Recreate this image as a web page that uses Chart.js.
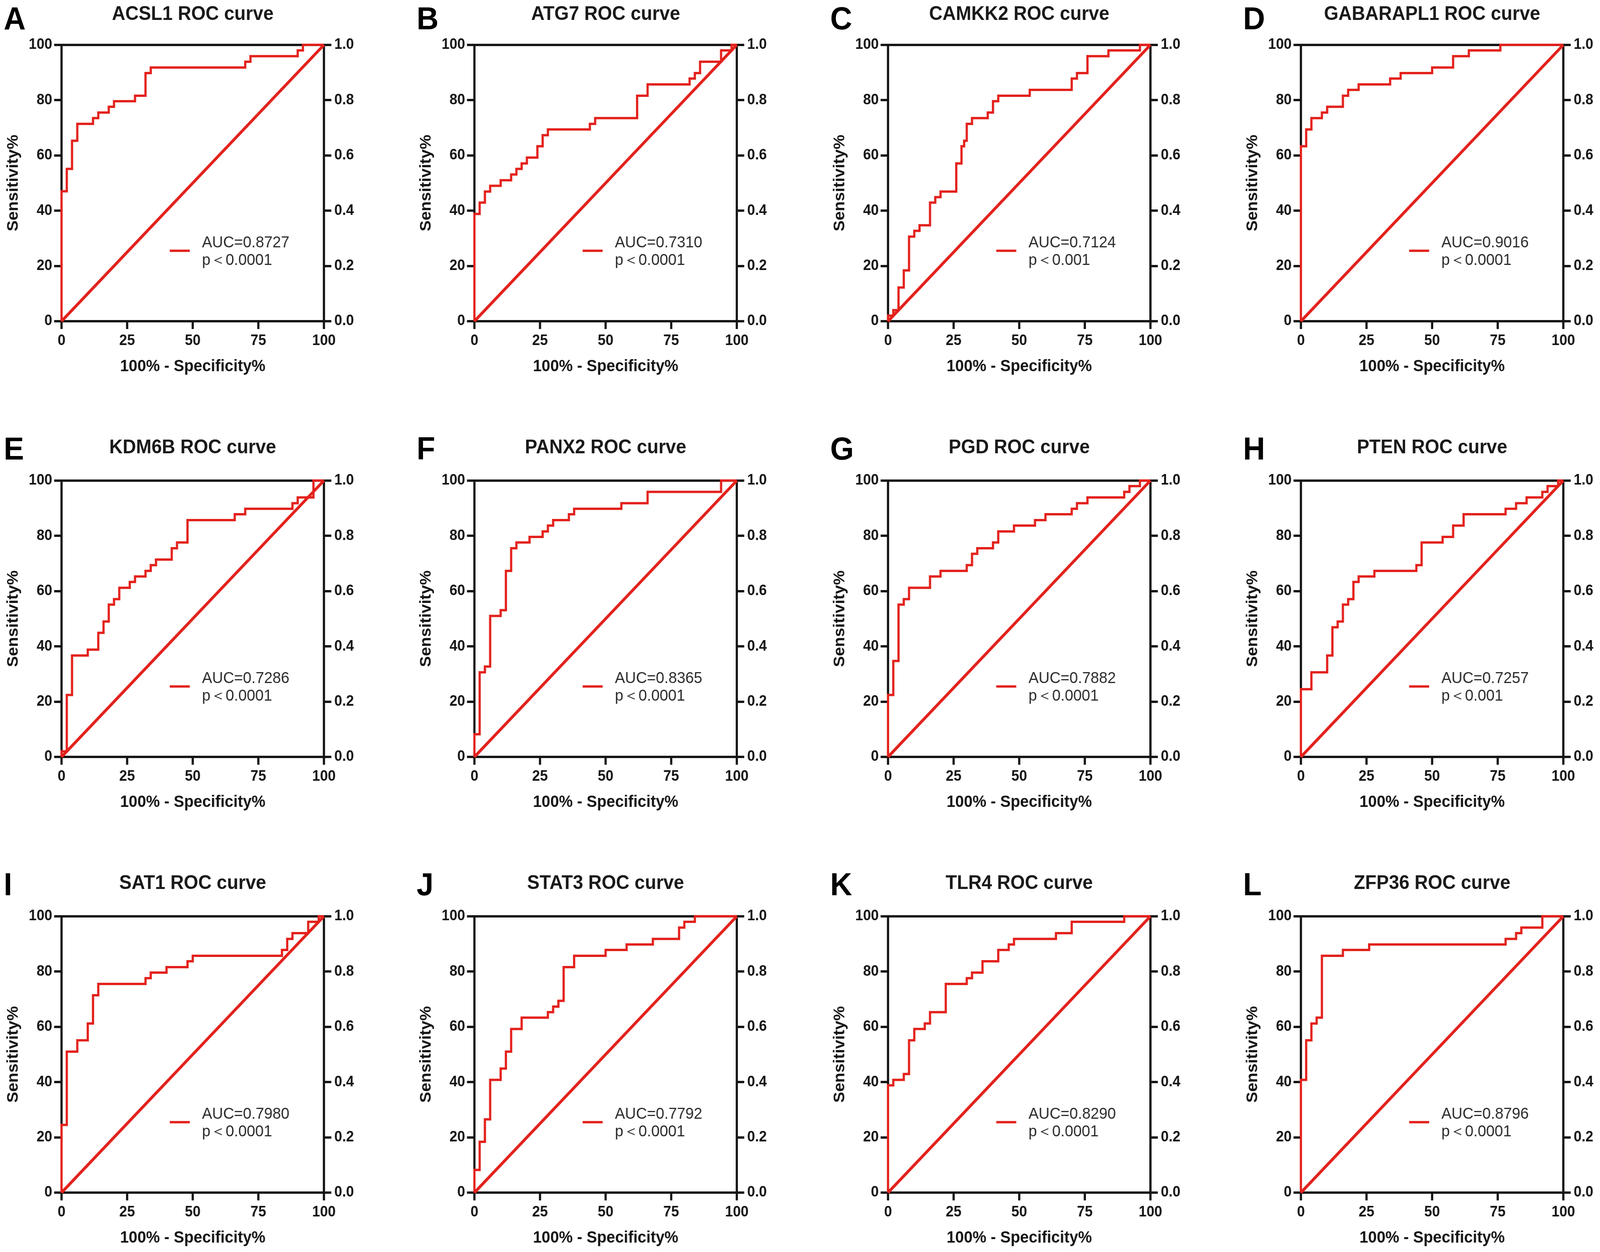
<!DOCTYPE html>
<html>
<head>
<meta charset="utf-8">
<script src="https://cdn.jsdelivr.net/npm/chart.js@4.4.1/dist/chart.umd.min.js"></script>
<style>
  html, body { margin: 0; padding: 0; background: #fff; overflow: hidden; }
  #fig { position: absolute; left: 0; top: 0; width: 4317px; height: 3204px; transform-origin: 0 0;
         font-family: "Liberation Sans", Arial, sans-serif; }
  .panel-title { position: absolute; width: 708px; height: 60px; line-height: 60px; text-align: center;
                 font-weight: bold; font-size: 50px; color: #1a1a1a; white-space: nowrap; }
  .panel-letter { position: absolute; font-weight: bold; font-size: 82px; line-height: 82px; color: #000; }
  canvas { position: absolute; }
</style>
</head>
<body>
<div id="fig"></div>
<script>
"use strict";

//-------------------------- data ------------------------------------------
const genes = ["ACSL1", "ATG7", "CAMKK2", "GABARAPL1", "KDM6B", "PANX2",
               "PGD", "PTEN", "SAT1", "STAT3", "TLR4", "ZFP36"];
const letters = ["A", "B", "C", "D", "E", "F", "G", "H", "I", "J", "K", "L"];
const aucValues = ["0.8727", "0.7310", "0.7124", "0.9016", "0.7286", "0.8365",
                   "0.7882", "0.7257", "0.7980", "0.7792", "0.8290", "0.8796"];
const pValues = ["0.0001", "0.0001", "0.001", "0.0001", "0.0001", "0.0001",
                 "0.0001", "0.001", "0.0001", "0.0001", "0.0001", "0.0001"];

// tick labels
const xTickValues = [0, 25, 50, 75, 100];
const yTickValues = [0, 20, 40, 60, 80, 100];
const rightTickLabels = ["0.0", "0.2", "0.4", "0.6", "0.8", "1.0"];

// reference line
const diagX = [0, 100];
const diagY = [0, 100];

// ROC step corners: 100% - specificity% (x) and sensitivity% (y)
const acsl1X = [0, 0, 2, 4, 6, 12, 14, 18, 20, 28, 32, 34, 70, 72, 90, 92, 100];
const acsl1Y = [0, 47, 55.1, 65.3, 71.4, 73.5, 75.5, 77.6, 79.6, 81.6, 89.8, 91.8, 93.9, 95.9, 98, 100, 100];

const atg7X = [0, 0, 2, 4, 6, 10, 14, 16, 18, 20, 24, 26, 28, 44, 46, 62, 66, 82, 84, 86, 94, 98, 100];
const atg7Y = [0, 38.8, 42.9, 46.9, 49, 51, 53.1, 55.1, 57.1, 59.2, 63.3, 67.3, 69.4, 71.4, 73.5, 81.6, 85.7, 87.8, 89.8, 93.9, 98, 100, 100];

const camkk2X = [0, 0, 2, 4, 6, 8, 10, 12, 16, 18, 20, 26, 28, 29, 30, 32, 38, 40, 42, 54, 70, 72, 76, 84, 96, 100];
const camkk2Y = [0, 2, 4, 12.2, 18.4, 30.6, 32.7, 34.7, 42.9, 44.9, 46.9, 57.1, 63.3, 65.3, 71.4, 73.5, 75.5, 79.6, 81.6, 83.7, 87.8, 89.8, 95.9, 98, 100, 100];

const gabarapl1X = [0, 0, 2, 4, 8, 10, 16, 18, 22, 34, 38, 50, 58, 64, 76, 100];
const gabarapl1Y = [0, 63.3, 69.4, 73.5, 75.5, 77.6, 81.6, 83.7, 85.7, 87.8, 89.8, 91.8, 95.9, 98, 100, 100];

const kdm6bX = [0, 0, 2, 4, 10, 14, 16, 18, 20, 22, 26, 28, 32, 34, 36, 42, 44, 48, 66, 70, 88, 90, 96, 100];
const kdm6bY = [0, 2, 22.4, 36.7, 38.8, 44.9, 49, 55.1, 57.1, 61.2, 63.3, 65.3, 67.3, 69.4, 71.4, 75.5, 77.6, 85.7, 87.8, 89.8, 91.8, 93.9, 100, 100];

const panx2X = [0, 0, 2, 4, 6, 10, 12, 14, 16, 21, 26, 28, 30, 36, 38, 56, 66, 94, 100];
const panx2Y = [0, 8.2, 30.6, 32.7, 51, 53.1, 67.3, 75.5, 77.6, 79.6, 81.6, 83.7, 85.7, 87.8, 89.8, 91.8, 95.9, 100, 100];

const pgdX = [0, 0, 2, 4, 6, 8, 16, 20, 30, 32, 34, 40, 42, 48, 56, 60, 70, 72, 76, 90, 92, 96, 100];
const pgdY = [0, 22.4, 34.7, 55.1, 57.1, 61.2, 65.3, 67.3, 69.4, 73.5, 75.5, 77.6, 81.6, 83.7, 85.7, 87.8, 89.8, 91.8, 93.9, 95.9, 98, 100, 100];

const ptenX = [0, 0, 4, 10, 12, 14, 16, 18, 20, 22, 28, 44, 46, 54, 58, 62, 78, 82, 86, 92, 94, 98, 100];
const ptenY = [0, 24.5, 30.6, 36.7, 46.9, 49, 55.1, 57.1, 63.3, 65.3, 67.3, 69.4, 77.6, 79.6, 83.7, 87.8, 89.8, 91.8, 93.9, 95.9, 98, 100, 100];

const sat1X = [0, 0, 2, 6, 10, 12, 14, 32, 34, 40, 48, 50, 84, 86, 88, 94, 98, 100];
const sat1Y = [0, 24.5, 51, 55.1, 61.2, 71.4, 75.5, 77.6, 79.6, 81.6, 83.7, 85.7, 87.8, 91.8, 93.9, 98, 100, 100];

const stat3X = [0, 0, 2, 4, 6, 10, 12, 14, 18, 28, 30, 32, 34, 38, 50, 58, 68, 78, 80, 84, 100];
const stat3Y = [0, 8.2, 18.4, 26.5, 40.8, 44.9, 51, 59.2, 63.3, 65.3, 67.3, 69.4, 81.6, 85.7, 87.8, 89.8, 91.8, 95.9, 98, 100, 100];

const tlr4X = [0, 0, 2, 6, 8, 10, 14, 16, 22, 30, 32, 36, 42, 46, 48, 64, 70, 90, 100];
const tlr4Y = [0, 38.8, 40.8, 42.9, 55.1, 59.2, 61.2, 65.3, 75.5, 77.6, 79.6, 83.7, 87.8, 89.8, 91.8, 93.9, 98, 100, 100];

const zfp36X = [0, 0, 2, 4, 6, 8, 16, 26, 78, 82, 84, 92, 100];
const zfp36Y = [0, 40.8, 55.1, 61.2, 63.3, 85.7, 87.8, 89.8, 91.8, 93.9, 95.9, 100, 100];

const curvesX = [acsl1X, atg7X, camkk2X, gabarapl1X, kdm6bX, panx2X, pgdX, ptenX, sat1X, stat3X, tlr4X, zfp36X];
const curvesY = [acsl1Y, atg7Y, camkk2Y, gabarapl1Y, kdm6bY, panx2Y, pgdY, ptenY, sat1Y, stat3Y, tlr4Y, zfp36Y];

//-------------------------- layout & style ---------------------------------
const FIG_W = 4317, FIG_H = 3204;
const RED = "#e3211c";
const INK = "#151515";
const FONT = '"Liberation Sans", Arial, sans-serif';
const PLOT = 708;
const colLeft = [166, 1280, 2396, 3510];
const rowTop = [114, 1229, 2344];
const titleCenterY = [34, 1143, 2258];
const letterCapTop = [17, 1118, 2233];
const LEFT_W = 166, RIGHT_W = 100, TOP_PAD = 30, BOTTOM_H = 150;

const fig = document.getElementById("fig");

// the viewport can come out narrower than asked, so stretch the figure to fill it
function fitFigure() {
  const sx = window.innerWidth / FIG_W;
  const sy = window.innerHeight / FIG_H;
  fig.style.transform = "scale(" + sx + "," + sy + ")";
}
fitFigure();

function toPoints(xs, ys) {
  return xs.map((x, i) => ({x: x, y: ys[i]}));
}

// AUC legend drawn inside the plot
const aucLegend = {
  id: "aucLegend",
  afterDatasetsDraw(chart, args, opts) {
    const ctx = chart.ctx;
    const a = chart.chartArea;
    ctx.save();
    ctx.strokeStyle = RED;
    ctx.lineWidth = 6;
    ctx.beginPath();
    ctx.moveTo(a.left + 292, a.top + 527);
    ctx.lineTo(a.left + 346, a.top + 527);
    ctx.stroke();
    ctx.fillStyle = "#2b2b2b";
    ctx.font = "41px " + FONT;
    ctx.textAlign = "left";
    ctx.textBaseline = "alphabetic";
    ctx.fillText(opts.auc, a.left + 379, a.top + 518);
    ctx.fillText(opts.p, a.left + 379, a.top + 563);
    ctx.restore();
  }
};

function setTicks(values) {
  return function (scale) {
    scale.ticks = values.map(v => ({value: v}));
  };
}

//-------------------------- one panel ---------------------------------------
function makePanel(i) {
  const col = i % 4;
  const row = Math.floor(i / 4);
  const left = colLeft[col];
  const top = rowTop[row];

  let title = document.createElement("div");
  title.className = "panel-title";
  title.style.left = left + "px";
  title.style.top = (titleCenterY[row] - 30) + "px";
  title.textContent = genes[i] + " ROC curve";
  fig.appendChild(title);

  let letter = document.createElement("div");
  letter.className = "panel-letter";
  letter.style.left = (left - 156) + "px";
  letter.style.top = (letterCapTop[row] - 11) + "px";
  letter.textContent = letters[i];
  fig.appendChild(letter);

  let canvas = document.createElement("canvas");
  canvas.width = LEFT_W + PLOT + RIGHT_W;
  canvas.height = TOP_PAD + PLOT + BOTTOM_H;
  canvas.style.left = (left - LEFT_W) + "px";
  canvas.style.top = (top - TOP_PAD) + "px";
  fig.appendChild(canvas);

  const tickFont = {family: FONT, size: 38, weight: "bold"};
  const titleFont = {family: FONT, size: 42, weight: "bold"};
  const gridStyle = {display: true, drawOnChartArea: false, drawTicks: true, tickLength: 20,
                     tickWidth: 6, color: INK, lineWidth: 6};
  const borderStyle = {display: true, color: INK, width: 6};

  new Chart(canvas, {
    type: "line",
    data: {
      datasets: [
        {
          data: toPoints(diagX, diagY),
          borderColor: RED, borderWidth: 7.5, pointRadius: 0, clip: false
        },
        {
          data: toPoints(curvesX[i], curvesY[i]),
          borderColor: RED, borderWidth: 6, pointRadius: 0, stepped: true, clip: false
        }
      ]
    },
    options: {
      responsive: false,
      animation: false,
      devicePixelRatio: 1,
      layout: {padding: {top: TOP_PAD, left: 0, right: 0, bottom: 0}},
      plugins: {
        legend: {display: false},
        tooltip: {enabled: false},
        aucLegend: {auc: "AUC=" + aucValues[i], p: "p\uFF1C" + pValues[i]}
      },
      scales: {
        x: {
          type: "linear", position: "bottom", min: 0, max: 100,
          afterBuildTicks: setTicks(xTickValues),
          afterFit: s => { s.height = BOTTOM_H; },
          grid: gridStyle, border: borderStyle,
          ticks: {font: tickFont, color: INK, padding: 8, maxRotation: 0, autoSkip: false},
          title: {display: true, text: "100% - Specificity%", font: titleFont, color: INK,
                  padding: {top: 0, bottom: 8}}
        },
        xTop: {
          type: "linear", position: "top", min: 0, max: 100,
          afterFit: s => { s.height = 0; },
          grid: {display: false}, border: borderStyle,
          ticks: {display: false}
        },
        y: {
          type: "linear", position: "left", min: 0, max: 100,
          afterBuildTicks: setTicks(yTickValues),
          afterFit: s => { s.width = LEFT_W; },
          grid: gridStyle, border: borderStyle,
          ticks: {font: tickFont, color: INK, padding: 5, autoSkip: false},
          title: {display: true, text: "Sensitivity%", font: titleFont, color: INK,
                  padding: {top: 11, bottom: 0}}
        },
        y2: {
          type: "linear", position: "right", min: 0, max: 1,
          afterBuildTicks: setTicks(rightTickLabels.map(Number)),
          afterFit: s => { s.width = RIGHT_W; },
          grid: gridStyle, border: borderStyle,
          ticks: {font: tickFont, color: INK, padding: 8, autoSkip: false,
                  callback: (v, idx) => rightTickLabels[idx]}
        }
      }
    },
    plugins: [aucLegend]
  });
}

for (let i = 0; i < genes.length; i++) {
  makePanel(i);
}
</script>
</body>
</html>
